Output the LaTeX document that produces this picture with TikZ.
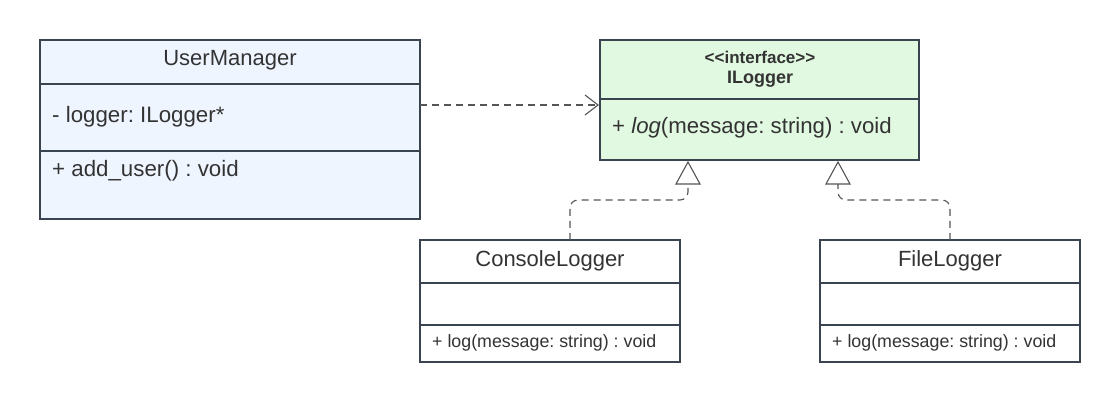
\documentclass[tikz,border=0pt]{standalone}
\usepackage{fontspec}
\setmainfont{Liberation Sans}[Ligatures=NoCommon]
\usetikzlibrary{arrows.meta,calc}
\definecolor{edge}{HTML}{3A4350}
\definecolor{txt}{HTML}{333333}
\definecolor{bluefill}{HTML}{EEF5FF}
\definecolor{greenfill}{HTML}{E1F8E1}
\definecolor{conn}{HTML}{555555}
\frenchspacing
\begin{document}
\begin{tikzpicture}[x=1pt,y=-1pt,
  box/.style={draw=edge,line width=1.6pt},
  divider/.style={draw=edge,line width=1.6pt},
  lbl/.style={inner sep=0pt,anchor=west,text=txt},
  title/.style={inner sep=0pt,text=txt,font=\fontsize{22}{26}\selectfont},
  dep/.style={draw=conn,line width=1.1pt,dash pattern=on 7pt off 5pt},
  real/.style={draw=conn,line width=1.1pt,dash pattern=on 7pt off 5pt,rounded corners=8pt}
]
\useasboundingbox (0,0) rectangle (1120,403);
% UserManager
\path[box,fill=bluefill] (40,40) rectangle (420,219);
\coordinate (umE) at (420,105);
\draw[divider] (40,84) -- (420,84);
\draw[divider] (40,151) -- (420,151);
\node[title] (umT) at (230,60) {UserManager};
\node[lbl,font=\fontsize{22.3}{26}\selectfont] (umA) at (52,117) {- logger: ILogger*};
\node[lbl,font=\fontsize{22.3}{26}\selectfont] (umM) at (52,171) {+ add\_user() : void};
% ILogger
\path[box,fill=greenfill] (600,40) rectangle (919,160);
\coordinate (ilW) at (600,105);
\draw[divider] (600,99) -- (919,99);
\node[inner sep=0pt,text=txt,font=\bfseries\fontsize{17}{19}\selectfont] (ilS) at (760,57) {<{}<interface>{}>};
\node[inner sep=0pt,text=txt,font=\bfseries\fontsize{18}{20}\selectfont] (ilT) at (760,79) {ILogger};
\node[lbl,font=\fontsize{22.2}{26}\selectfont] (ilM) at (612,128) {+ \textit{log}(message: string) : void};
\coordinate (ilA) at (688,162);
\coordinate (ilB) at (838,162);
% ConsoleLogger
\path[box,fill=white] (420,240) rectangle (680,362);
\draw[divider] (420,283) -- (680,283);
\draw[divider] (420,325) -- (680,325);
\node[title] (clT) at (550,261) {ConsoleLogger};
\node[lbl,font=\fontsize{17.8}{20}\selectfont] (clM) at (432,343) {+ log(message: string) : void};
\coordinate (clN) at (570,240);
% FileLogger
\path[box,fill=white] (820,240) rectangle (1080,362);
\draw[divider] (820,283) -- (1080,283);
\draw[divider] (820,325) -- (1080,325);
\node[title] (flT) at (950,261) {FileLogger};
\node[lbl,font=\fontsize{17.8}{20}\selectfont] (flM) at (832,343) {+ log(message: string) : void};
\coordinate (flN) at (950,240);
% dependency
\draw[dep] (umE) -- ($(ilW)+(-2,0)$);
\draw[conn,line width=1.1pt] (585,95) -- (598,105) -- (585,115);
% realizations
\draw[real] (clN) -- (570,200) -- (688,200) -- (688,184);
\draw[conn,line width=1.1pt,fill=white] (ilA) -- (676,184) -- (700,184) -- cycle;
\draw[real] (flN) -- (950,200) -- (838,200) -- (838,184);
\draw[conn,line width=1.1pt,fill=white] (ilB) -- (826,184) -- (850,184) -- cycle;
\end{tikzpicture}
\end{document}
